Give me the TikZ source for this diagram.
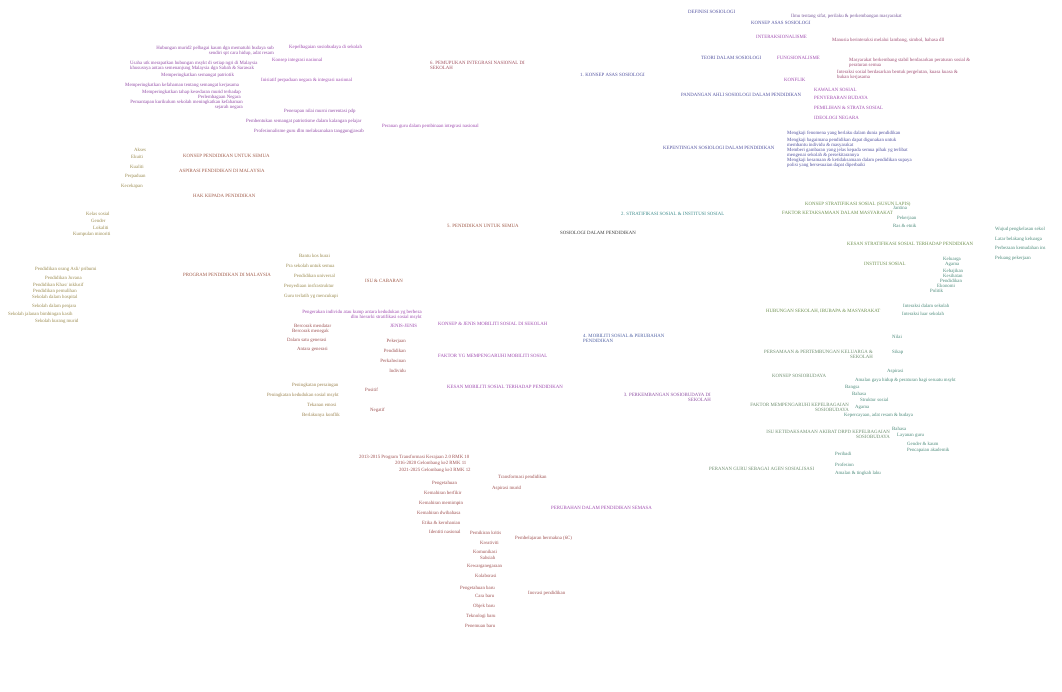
\documentclass[tikz,border=0pt]{standalone}
\usepackage{fontspec}
\setmainfont{Liberation Serif}
\definecolor{rootc}{HTML}{3C3C3C}
\definecolor{bluc}{HTML}{5252A0}
\definecolor{lilac}{HTML}{7A5A9C}
\definecolor{purc}{HTML}{A04CB0}
\definecolor{pur2c}{HTML}{944EA8}
\definecolor{mauvc}{HTML}{A04E74}
\definecolor{tealc}{HTML}{3F8C8C}
\definecolor{olivc}{HTML}{6E904E}
\definecolor{tgrnc}{HTML}{4E8C7C}
\definecolor{sagec}{HTML}{6E8E6E}
\definecolor{pur3c}{HTML}{9052A4}
\definecolor{blu4c}{HTML}{5062A4}
\definecolor{brn4c}{HTML}{9E5252}
\definecolor{ochrc}{HTML}{9C8450}
\definecolor{brnc}{HTML}{A05A48}
\definecolor{olvc}{HTML}{9C8C50}
\definecolor{red6c}{HTML}{A0505E}
\definecolor{brn7c}{HTML}{A05252}

\begin{document}
\begin{tikzpicture}[x=1pt,y=-1pt,
  every node/.style={inner sep=0pt,yshift=-0.8pt,font=\fontsize{4.85}{5}\selectfont},
  root/.style={text=rootc}, blu/.style={text=bluc}, lila/.style={text=lilac},
  pur/.style={text=purc}, pur2/.style={text=pur2c}, mauv/.style={text=mauvc},
  teal/.style={text=tealc}, oliv/.style={text=olivc}, tgrn/.style={text=tgrnc},
  sage/.style={text=sagec}, pur3/.style={text=pur3c}, blu4/.style={text=blu4c},
  brn4/.style={text=brn4c}, ochr/.style={text=ochrc}, brn/.style={text=brnc},
  olv/.style={text=olvc}, red6/.style={text=red6c}, brn7/.style={text=brn7c}]
  \fill[white] (0,0) rectangle (1062,692);
  \useasboundingbox (0,0) rectangle (1062,692);

  \node[root,right] (sos) at (560,232) {SOSIOLOGI DALAM PENDIDIKAN};

  % 1. konsep asas sosiologi
  \node[blu,right] (k1) at (580,74.3) {1. KONSEP ASAS SOSIOLOGI};
	\node[blu,right] (k1def) at (688,11.3) {DEFINISI SOSIOLOGI};
	\node[blu,right] (k1kon) at (751,22.3) {KONSEP ASAS SOSIOLOGI};
	\node[lila,right] (k1ilmu) at (791,16) {Ilmu tentang sifat, perilaku \& perkembangan masyarakat};
	\node[blu,right] (k1teo) at (701,57.3) {TEORI DALAM SOSIOLOGI};
	\node[pur,right] (k1int) at (756,36) {INTERAKSIONALISME};
	\node[mauv,right] (k1intd) at (832,39.3) {Manusia berinteraksi melalui lambang, simbol, bahasa dll};
	\node[pur,right] (k1fun) at (777,57.3) {FUNGSIONALISME};
	\node[mauv,right,align=left] (k1fund) at (849,62) {Masyarakat berkembang stabil berdasarkan peraturan sosial \&\\peraturan semua};
	\node[pur,right] (k1kfl) at (784,79.3) {KONFLIK};
	\node[mauv,right,align=left] (k1kfld) at (837,73.7) {Interaksi sosial berdasarkan bentuk pergelutan, kuasa kuasa \&\\bukan kerjasama};
	\node[blu,right] (k1pdg) at (681,94.3) {PANDANGAN AHLI SOSIOLOGI DALAM PENDIDIKAN};
	\node[pur,right] (k1kaw) at (814,89.3) {KAWALAN SOSIAL};
	\node[pur,right] (k1bud) at (814,97.3) {PENYEBARAN BUDAYA};
	\node[pur,right] (k1str) at (814,107.3) {PEMILIHAN \& STRATA SOSIAL};
	\node[pur,right] (k1ide) at (814,117.3) {IDEOLOGI NEGARA};
	\node[blu,right] (k1pent) at (663,147) {KEPENTINGAN SOSIOLOGI DALAM PENDIDIKAN};
	\node[blu,right] (k1m1) at (787,132.7) {Mengkaji fenomena yang berlaku dalam dunia pendidikan};
	\node[blu,right,align=left] (k1m2) at (787,141.7) {Mengkaji bagaimana pendidikan dapat digunakan untuk\\membantu individu \& masyarakat};
	\node[blu,right,align=left] (k1m3) at (787,151.8) {Memberi gambaran yang jelas kepada semua pihak yg terlibat\\mengenai sekolah \& persekitarannya};
	\node[blu,right,align=left] (k1m4) at (787,161.8) {Mengkaji kesamaan \& ketidaksamaan dalam pendidikan supaya\\polisi yang bersesuaian dapat diperbaiki};

  % 2. stratifikasi sosial
  \node[teal,right] (k2) at (621,213) {2. STRATIFIKASI SOSIAL \& INSTITUSI SOSIAL};
	\node[oliv,right] (k2kon) at (805,203.3) {KONSEP STRATIFIKASI SOSIAL (SUSUN LAPIS)};
	\node[oliv,right] (k2fak) at (782,212) {FAKTOR KETAKSAMAAN DALAM MASYARAKAT};
	\node[tgrn,right] (k2jan) at (893,207.3) {Jantina};
	\node[tgrn,right] (k2pek) at (897,217.3) {Pekerjaan};
	\node[tgrn,right] (k2ras) at (893,225.3) {Ras \& etnik};
	\node[oliv,right] (k2kes) at (847,243.3) {KESAN STRATIFIKASI SOSIAL TERHADAP PENDIDIKAN};
	\node[tgrn,right] (k2wuj) at (995,228.3) {Wujud pengkelasan sekol};
	\node[tgrn,right] (k2lat) at (995,238.3) {Latar belakang keluarga};
	\node[tgrn,right] (k2bez) at (995,247.3) {Perbezaan kemudahan ins};
	\node[tgrn,right] (k2pel) at (995,257.3) {Peluang pekerjaan};
	\node[oliv,right] (k2ins) at (864,263.3) {INSTITUSI SOSIAL};
	\node[tgrn,right] (k2kel) at (943,258.3) {Keluarga};
	\node[tgrn,right] (k2aga) at (945,263.3) {Agama};
	\node[tgrn,right] (k2keb) at (943,270.7) {Kebajikan};
	\node[tgrn,right] (k2ksh) at (943,275.3) {Kesihatan};
	\node[tgrn,right] (k2pdd) at (940,280.3) {Pendidikan};
	\node[tgrn,right] (k2eko) at (937,285.3) {Ekonomi};
	\node[tgrn,right] (k2pol) at (930,290.3) {Politik};
	\node[oliv,right] (k2hub) at (766,310.7) {HUBUNGAN SEKOLAH, IBUBAPA \& MASYARAKAT};
	\node[tgrn,right] (k2dlm) at (903,305.3) {Interaksi dalam sekolah};
	\node[tgrn,right] (k2lua) at (902,313.3) {Interaksi luar sekolah};

  % 3. perkembangan sosiobudaya
  \node[pur3,left,align=right] (k3) at (711,396.8) {3. PERKEMBANGAN SOSIOBUDAYA DI\\SEKOLAH};
	\node[sage,left,align=right] (k3sam) at (873,354) {PERSAMAAN \& PERTEMBUNGAN KELUARGA \&\\SEKOLAH};
	\node[tgrn,right] (k3nil) at (892,336) {Nilai};
	\node[tgrn,right] (k3sik) at (892,351.7) {Sikap};
	\node[sage,right] (k3kon) at (772,375.3) {KONSEP SOSIOBUDAYA};
	\node[tgrn,right] (k3asp) at (887,370.3) {Aspirasi};
	\node[tgrn,right] (k3ama) at (855,379.7) {Amalan gaya hidup \& peraturan bagi sesuatu msykt};
	\node[sage,left,align=right] (k3fak) at (849,406.7) {FAKTOR MEMPENGARUHI KEPELBAGAIAN\\SOSIOBUDAYA};
	\node[tgrn,right] (k3ban) at (845,386.3) {Bangsa};
	\node[tgrn,right] (k3bah) at (852,393) {Bahasa};
	\node[tgrn,right] (k3str) at (860,399.3) {Struktur sosial};
	\node[tgrn,right] (k3aga) at (855,406.3) {Agama};
	\node[tgrn,right] (k3kep) at (844,414.3) {Kepercayaan, adat resam \& budaya};
	\node[sage,left,align=right] (k3isu) at (890,434) {ISU KETIDAKSAMAAN AKIBAT DRPD KEPELBAGAIAN\\SOSIOBUDAYA};
	\node[tgrn,right] (k3bhs) at (892,428.3) {Bahasa};
	\node[tgrn,right] (k3lay) at (897,434.7) {Layanan guru};
	\node[tgrn,right] (k3gen) at (907,443.3) {Gender \& kaum};
	\node[tgrn,right] (k3pen) at (907,449.3) {Pencapaian akademik};
	\node[sage,right] (k3gur) at (709,468) {PERANAN GURU SEBAGAI AGEN SOSIALISASI};
	\node[tgrn,right] (k3pri) at (835,453.3) {Peribadi};
	\node[tgrn,right] (k3pro) at (835,463.7) {Profesion};
	\node[tgrn,right] (k3tin) at (835,472.7) {Amalan \& tingkah laku};

  % 4. mobiliti sosial
  \node[blu4,right,align=left] (k4) at (583,337.8) {4. MOBILITI SOSIAL \& PERUBAHAN\\PENDIDIKAN};
	\node[pur,right] (k4kon) at (438,323.3) {KONSEP \& JENIS MOBILITI SOSIAL DI SEKOLAH};
	\node[pur,left,align=right] (k4def) at (422,314) {Pengerakan individu atau kump antara kedudukan yg berbeza\\dlm hierarki stratifikasi sosial msykt};
	\node[pur,right] (k4jen) at (390,325.3) {JENIS-JENIS};
	\node[brn4,right] (k4j1) at (294,325.3) {Bercorak mendatar};
	\node[brn4,right] (k4j2) at (292,331) {Bercorak menegak};
	\node[brn4,right] (k4j3) at (287,340) {Dalam satu generasi};
	\node[brn4,right] (k4j4) at (297,348.3) {Antara generasi};
	\node[pur,right] (k4fak) at (438,355.3) {FAKTOR YG MEMPENGARUHI MOBILITI SOSIAL};
	\node[brn4,left] (k4f1) at (406,340.3) {Pekerjaan};
	\node[brn4,left] (k4f2) at (406,350) {Pendidikan};
	\node[brn4,left] (k4f3) at (406,360.3) {Perkahwinan};
	\node[brn4,left] (k4f4) at (406,370.3) {Individu};
	\node[pur,right] (k4kes) at (447,386) {KESAN MOBILITI SOSIAL TERHADAP PENDIDIKAN};
	\node[brn4,right] (k4pos) at (365,389.3) {Positif};
	\node[ochr,right] (k4p1) at (292,384.7) {Peningkatan persaingan};
	\node[ochr,left] (k4p2) at (339,394.3) {Peningkatan kedudukan sosial msykt};
	\node[brn4,right] (k4neg) at (370,409.3) {Negatif};
	\node[ochr,right] (k4n1) at (307,404.3) {Tekanan emosi};
	\node[ochr,right] (k4n2) at (302,414.3) {Berlakunya konflik};

  % 5. pendidikan untuk semua
  \node[brn,right] (k5) at (447,225.3) {5. PENDIDIKAN UNTUK SEMUA};
	\node[brn,right] (k5kon) at (183,154.7) {KONSEP PENDIDIKAN UNTUK SEMUA};
	\node[olv,right] (k5aks) at (134,149.3) {Akses};
	\node[olv,right] (k5eku) at (131,155.7) {Ekuiti};
	\node[olv,right] (k5kua) at (130,165.7) {Kualiti};
	\node[olv,right] (k5per) at (125,175.7) {Perpaduan};
	\node[olv,right] (k5kec) at (121,185.7) {Kecekapan};
	\node[brn,right] (k5asp) at (179,170.3) {ASPIRASI PENDIDIKAN DI MALAYSIA};
	\node[brn,right] (k5hak) at (193,195) {HAK KEPADA PENDIDIKAN};
	\node[olv,right] (k5kel) at (86,213.3) {Kelas sosial};
	\node[olv,right] (k5gen) at (91,220.3) {Gender};
	\node[olv,right] (k5lok) at (93,227.3) {Lokaliti};
	\node[olv,right] (k5min) at (73,233.7) {Kumpulan minoriti};
	\node[brn,right] (k5pro) at (183,273.7) {PROGRAM PENDIDIKAN DI MALAYSIA};
	\node[olv,right] (k5p1) at (35,268.3) {Pendidikan orang Asli/ pribumi};
	\node[olv,right] (k5p2) at (45,277.3) {Pendidikan Juvana};
	\node[olv,right] (k5p3) at (33,283.7) {Pendidikan Khas/ inklusif};
	\node[olv,right] (k5p4) at (33,290.3) {Pendidikan pemulihan};
	\node[olv,right] (k5p5) at (32,296.3) {Sekolah dalam hospital};
	\node[olv,right] (k5p6) at (32,305.3) {Sekolah dalam penjara};
	\node[olv,right] (k5p7) at (8,313.3) {Sekolah jalanan bimbingan kasih};
	\node[olv,right] (k5p8) at (35,320.7) {Sekolah kurang murid};
	\node[brn,right] (k5isu) at (365,280.3) {ISU \& CABARAN};
	\node[olv,right] (k5i1) at (299,255.3) {Bantu kos hurai};
	\node[olv,right] (k5i2) at (286,265.3) {Pra sekolah untuk semua};
	\node[olv,right] (k5i3) at (294,275.3) {Pendidikan universal};
	\node[olv,right] (k5i4) at (284,285.3) {Penyediaan insfrastruktur};
	\node[olv,right] (k5i5) at (284,295.7) {Guru terlatih yg mencukupi};

  % 6. integrasi nasional
  \node[red6,right,align=left] (k6) at (430,64.8) {6. PEMUPUKAN INTEGRASI NASIONAL DI\\SEKOLAH};
	\node[pur,right] (k6kep) at (289,46.3) {Kepelbagaian sosiobudaya di sekolah};
	\node[pur2,left,align=right] (k6hub) at (274,49.8) {Hubungan murid2 pelbagai kaum dgn mematuhi budaya sub\\sendiri spt cara hidup, adat resam};
	\node[pur,right] (k6kon) at (272,59.7) {Konsep integrasi nasional};
	\node[pur2,right,align=left] (k6usa) at (130,64.7) {Usaha utk merapatkan hubungan msykt di setiap ngri di Malaysia\\khususnya antara semenanjung Malaysia dgn Sabah \& Sarawak};
	\node[pur,right] (k6ini) at (261,79.7) {Inisiatif perpaduan negara \& integrasi nasional};
	\node[pur2,right] (k6i1) at (161,74.3) {Memperingkatkan semangat patriotik};
	\node[pur2,right] (k6i2) at (125,84.3) {Memperingkatkan kefahaman tentang semangat kerjasama};
	\node[pur2,left,align=right] (k6i3) at (241,94.3) {Memperingkatkan tahap kesedaran murid terhadap\\Perlembagaan Negara};
	\node[pur2,left,align=right] (k6i4) at (243,104.3) {Pemantapan kurikulum sekolah meningkatkan kefahaman\\sejarah negara};
	\node[pur,right] (k6per) at (382,125.7) {Peranan guru dalam pembinaan integrasi nasional};
	\node[pur2,right] (k6p1) at (284,110.7) {Penerapan nilai murni merentasi pdp};
	\node[pur2,right] (k6p2) at (246,120.3) {Pembentukan semangat patriotisme dalam kalangan pelajar};
	\node[pur2,right] (k6p3) at (254,130.3) {Profesionalisme guru dlm melaksanakan tanggungjawab};

  % perubahan dalam pendidikan semasa
  \node[pur,right] (k7) at (551,507.3) {PERUBAHAN DALAM PENDIDIKAN SEMASA};
	\node[brn7,right] (k7tra) at (498,476.7) {Transformasi pendidikan};
	\node[brn7,right] (k7t1) at (359,456.3) {2013-2015 Program Transformasi Kerajaan 2.0 RMK 10};
	\node[brn7,right] (k7t2) at (395,463) {2016-2020 Gelombang ke2 RMK 11};
	\node[brn7,right] (k7t3) at (399,469.3) {2021-2025 Gelombang ke3 RMK 12};
	\node[brn7,right] (k7asp) at (492,487.7) {Aspirasi murid};
	\node[brn7,right] (k7a1) at (432,482.3) {Pengetahuan};
	\node[brn7,right] (k7a2) at (424,492.3) {Kemahiran berfikir};
	\node[brn7,right] (k7a3) at (419,502.3) {Kemahiran memimpin};
	\node[brn7,right] (k7a4) at (417,512.3) {Kemahiran dwibahasa};
	\node[brn7,right] (k7a5) at (422,521.7) {Etika \& kerohanian};
	\node[brn7,right] (k7a6) at (429,531.3) {Identiti nasional};
	\node[brn7,right] (k7pem) at (515,537.3) {Pembelajaran bermakna (6C)};
	\node[brn7,right] (k7b1) at (470,532.3) {Pemikiran kritis};
	\node[brn7,right] (k7b2) at (480,542.3) {Kreativiti};
	\node[brn7,right] (k7b3) at (473,551.3) {Komunikasi};
	\node[brn7,right] (k7b4) at (480,557) {Sahsiah};
	\node[brn7,right] (k7b5) at (467,565.7) {Kewarganegaraan};
	\node[brn7,right] (k7b6) at (475,574.7) {Kolaborasi};
	\node[brn7,right] (k7ino) at (528,592.7) {Inovasi pendidikan};
	\node[brn7,right] (k7n1) at (460,587.3) {Pengetahuan baru};
	\node[brn7,right] (k7n2) at (475,595.3) {Cara baru};
	\node[brn7,right] (k7n3) at (473,605.7) {Objek baru};
	\node[brn7,right] (k7n4) at (466,615.3) {Teknologi baru};
	\node[brn7,right] (k7n5) at (465,625.3) {Penemuan baru};
\end{tikzpicture}
\end{document}
